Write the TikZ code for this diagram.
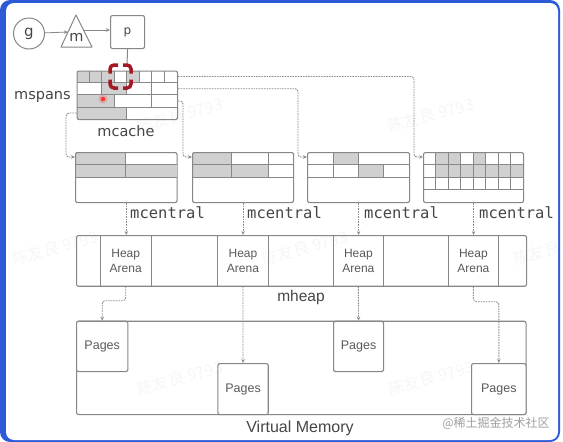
\documentclass[tikz,border=0pt]{standalone}
\usepackage{fontspec}
\setmainfont{Liberation Sans}
\newfontfamily\monof{DejaVu Sans Mono}
\newfontfamily\roundf{DejaVu Sans}
\newfontfamily\cjkf{Noto Sans CJK SC}
\usetikzlibrary{arrows.meta,calc}
\definecolor{linec}{RGB}{135,135,135}
\definecolor{cellg}{RGB}{208,208,208}
\definecolor{dashc}{RGB}{140,140,140}
\definecolor{txtc}{RGB}{70,70,70}
\definecolor{txtl}{RGB}{90,90,90}
\definecolor{redc}{RGB}{165,25,35}
\definecolor{framec}{RGB}{45,90,215}
\begin{document}
\begin{tikzpicture}[x=1pt,y=-1pt,
 box/.style={draw=linec, line width=1.1pt, rounded corners=2pt, inner sep=0pt, anchor=north west},
 cellbox/.style={draw=linec, line width=1pt, inner sep=0pt, anchor=north west},
 gridl/.style={draw=linec, line width=1pt},
 conn/.style={draw=dashc, line width=0.9pt, dash pattern=on 1.6pt off 1pt, rounded corners=3pt, -{Stealth[length=4pt,width=3.5pt]}},
 solidarr/.style={draw=linec, line width=0.8pt, -{Stealth[length=4pt,width=3.5pt]}},
 lbl/.style={font=\monof\fontsize{15.5}{16}\selectfont, text=txtc, inner sep=0pt},
 rlbl/.style={font=\roundf\fontsize{14.5}{16}\selectfont, text=txtc, inner sep=0pt},
 sans/.style={font=\fontsize{12}{15}\selectfont, text=txtl, align=center, inner sep=0pt},
 wm/.style={font=\cjkf\fontsize{16}{16}\selectfont, text=gray, opacity=0.07, rotate=15},
 redbr/.style={draw=redc, line width=3.5pt, rounded corners=4pt}
]
\useasboundingbox (0,0) rectangle (563,442);
\fill[white] (0,0) rectangle (563,442);
\fill[framec, rounded corners=10pt] (0,0) rectangle (560,442);
\fill[white, rounded corners=8pt] (6,3) rectangle (558,440);

% ---------- g, m, p ----------
\node[draw=linec, line width=1pt, circle, minimum size=31pt, inner sep=0pt,
      font=\roundf\fontsize{15}{15}\selectfont, text=txtc] (g) at (29,33.5) {g};
\draw[linec, line width=1pt, line join=round] (76,15) -- (92,47) -- (61,47) -- cycle;
\node[font=\roundf\fontsize{14.5}{14}\selectfont, text=txtc, inner sep=0pt] (m) at (76.5,37.5) {m};
\coordinate (mL) at (68,32);
\coordinate (mR) at (83,30);
\node[box, minimum width=34pt, minimum height=33pt,
      font=\roundf\fontsize{12}{12}\selectfont, text=txtc] (p) at (110,15) {p};
\draw[solidarr] (g) -- (mL);
\draw[solidarr] (mR) -- (p.west |- mR);

% ---------- mspans / mcache ----------
\begin{scope}
\clip[rounded corners=2pt] (76.5,70.5) rectangle (177,119);
\fill[cellg] (76.5,70.5) rectangle (114.2,82.6);
\fill[cellg] (126.75,70.5) rectangle (139.3,82.6);
\fill[cellg] (101.6,82.6) rectangle (126.75,94.8);
\fill[cellg] (76.5,94.8) rectangle (114.2,107);
\fill[cellg] (76.5,107) rectangle (126.75,119);
\end{scope}
\node[box, minimum width=100.5pt, minimum height=48.5pt] (mspans) at (76.5,70.5) {};
\foreach \yy in {82.6,94.8,107} \draw[gridl] (76.5,\yy) -- (177,\yy);
\foreach \xx in {89.06,101.6,114.2,126.75,139.3,151.9,164.4} \draw[gridl] (\xx,70.5) -- (\xx,82.6);
\foreach \xx in {101.6,126.75,151.9} \draw[gridl] (\xx,82.6) -- (\xx,94.8);
\foreach \xx in {114.2,151.9} \draw[gridl] (\xx,94.8) -- (\xx,107);
\draw[gridl] (126.75,107) -- (126.75,119);

\coordinate (redtop) at (127,65);
\draw[linec, line width=1pt] (p.south) -- (redtop);
% red selection brackets
\draw[redbr] (110,73.5) -- (110,65) -- (118,65);
\draw[redbr] (123,65) -- (131,65) -- (131,73.5);
\draw[redbr] (131,79.5) -- (131,88) -- (123,88);
\draw[redbr] (118,88) -- (110,88) -- (110,79.5);
% pointer dot
\fill[red!70, opacity=0.3] (103,99) circle (4.5);
\fill[red!80!white] (103,99) circle (2.2);

\node[rlbl, anchor=west] (lmspans) at (14,97) {mspans};
\node[rlbl] (lmcache) at (126,131) {mcache};

% ---------- mcentral boxes ----------
\begin{scope}
\clip[rounded corners=2pt] (75,152) rectangle (176.5,202);
\fill[cellg] (75,152) rectangle (125.5,164.7);
\fill[cellg] (75,164.7) rectangle (176.5,177.3);
\end{scope}
\node[box, minimum width=101.5pt, minimum height=50pt] (mc1) at (75,152) {};
\draw[gridl] (75,164.7) -- (176.5,164.7);
\draw[gridl] (75,177.3) -- (176.5,177.3);
\draw[gridl] (125.5,152) -- (125.5,177.3);

\begin{scope}
\clip[rounded corners=2pt] (192,152) rectangle (293,202);
\fill[cellg] (192,152) rectangle (231,164.7);
\fill[cellg] (192,164.7) rectangle (268,177.3);
\end{scope}
\node[box, minimum width=101pt, minimum height=50pt] (mc2) at (192,152) {};
\draw[gridl] (192,164.7) -- (293,164.7);
\draw[gridl] (192,177.3) -- (293,177.3);
\draw[gridl] (231,152) -- (231,177.3);
\draw[gridl] (268,152) -- (268,177.3);

\begin{scope}
\clip[rounded corners=2pt] (307,152) rectangle (409,202);
\fill[cellg] (333,152) rectangle (358,164.7);
\fill[cellg] (358,164.7) rectangle (383,177.3);
\end{scope}
\node[box, minimum width=102pt, minimum height=50pt] (mc3) at (307,152) {};
\draw[gridl] (307,164.7) -- (409,164.7);
\draw[gridl] (307,177.3) -- (409,177.3);
\draw[gridl] (333,152) -- (333,177.3);
\draw[gridl] (358,152) -- (358,177.3);
\draw[gridl] (383,164.7) -- (383,177.3);

\begin{scope}
\clip[rounded corners=2pt] (423,152) rectangle (523,202);
\fill[cellg] (435.5,152) rectangle (460.5,164.5);
\fill[cellg] (473,152) rectangle (485.5,164.5);
\fill[cellg] (435.5,164.5) rectangle (523,177);
\end{scope}
\node[box, minimum width=100pt, minimum height=50pt] (mc4) at (423,152) {};
\foreach \yy in {164.5,177,189.5} \draw[gridl] (423,\yy) -- (523,\yy);
\foreach \k in {0,...,6} \draw[gridl] ({435.5+12.5*\k},152) -- ({435.5+12.5*\k},189.5);

% mcache -> mcentral connectors
\draw[conn] (mspans.west |- 0,113) -- (66,113) |- (mc1.west |- 0,157);
\draw[conn] (mspans.east |- 0,101) -- (183,101) |- (mc2.west |- 0,157);
\draw[conn] (mspans.east |- 0,88.7) -- (298,88.7) |- (mc3.west |- 0,157);
\draw[conn] (mspans.east |- 0,76.5) -- (414,76.5) |- (mc4.west |- 0,157);

\node[lbl, anchor=west] (lmc1) at (130,213) {mcentral};
\node[lbl, anchor=west] (lmc2) at (247,213) {mcentral};
\node[lbl, anchor=west] (lmc3) at (364,213) {mcentral};
\node[lbl, anchor=west] (lmc4) at (479,213) {mcentral};

% ---------- mheap ----------
\node[box, minimum width=450pt, minimum height=50.7pt] (heap) at (76,235) {};
\node[cellbox, minimum width=50.5pt, minimum height=50.7pt] (ha1) at (100,235) {};
\node[cellbox, minimum width=51pt, minimum height=50.7pt] (ha2) at (217,235) {};
\node[cellbox, minimum width=50.3pt, minimum height=50.7pt] (ha3) at (332.7,235) {};
\node[cellbox, minimum width=50.3pt, minimum height=50.7pt] (ha4) at (447.7,235) {};
\foreach \h in {ha1,ha2,ha3,ha4} \node[sans] at ($(\h.center)+(0,0.5)$) {Heap\\Arena};
\node[font=\fontsize{15.5}{16}\selectfont, text=txtc, inner sep=0pt] (lmheap) at (301,297) {mheap};

\draw[conn] (mc1.south) -- (mc1.south |- ha1.north);
\draw[conn] (mc2.south) -- (mc2.south |- ha2.north);
\draw[conn] (mc3.south) -- (mc3.south |- ha3.north);
\draw[conn] (mc4.south) -- (mc4.south |- ha4.north);

% ---------- virtual memory ----------
\node[box, minimum width=449.5pt, minimum height=93.3pt] (vm) at (76,320.7) {};
\node[box, fill=white, minimum width=51.3pt, minimum height=50.3pt, font=\fontsize{12.5}{14}\selectfont, text=txtl] (pg1) at (76,320.7) {Pages};
\node[box, fill=white, minimum width=50.4pt, minimum height=51pt, font=\fontsize{12.5}{14}\selectfont, text=txtl] (pg2) at (217.3,363) {Pages};
\node[box, fill=white, minimum width=50pt, minimum height=50.3pt, font=\fontsize{12.5}{14}\selectfont, text=txtl] (pg3) at (333,320.7) {Pages};
\node[box, fill=white, minimum width=54.5pt, minimum height=51pt, font=\fontsize{12.5}{14}\selectfont, text=txtl] (pg4) at (471,363) {Pages};
\node[font=\fontsize{16}{18}\selectfont, text=txtc, inner sep=0pt] (lvm) at (300,428) {Virtual Memory};

\draw[conn] (ha1.south) -- ++(0,14) -| (pg1.north);
\draw[conn] (ha2.south) -- (pg2.north);
\draw[conn] (ha3.south) -- (pg3.north);
\draw[conn] (ha4.south) -- ++(0,15) -| (pg4.north);

% ---------- watermarks ----------
\node[font=\cjkf\fontsize{12}{12}\selectfont, text=gray!75, inner sep=0pt] (wmj) at (496,423) {@稀土掘金技术社区};
\node[wm] (wm1) at (180,115) {陈友良 9793};
\node[wm] (wm2) at (431,115) {陈友良 9793};
\node[wm] (wm3) at (55,248) {陈友良 9793};
\node[wm] (wm4) at (305,248) {陈友良 9793};
\node[wm] (wm5) at (556,248) {陈友良 9793};
\node[wm] (wm6) at (180,378) {陈友良 9793};
\node[wm] (wm7) at (431,378) {陈友良 9793};
\end{tikzpicture}
\end{document}
